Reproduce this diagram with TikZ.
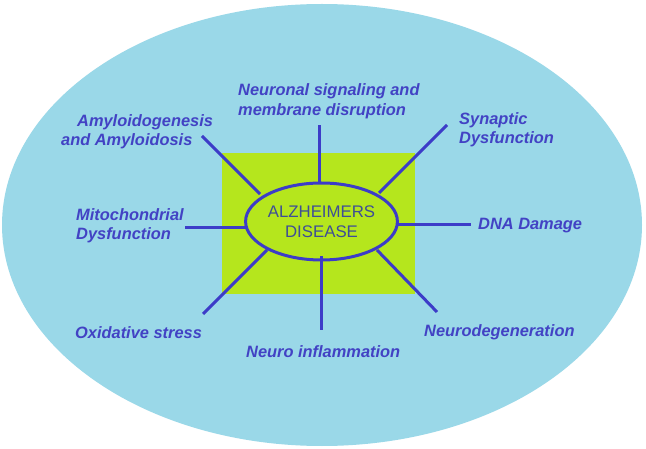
\documentclass[tikz,border=0pt]{standalone}
\usepackage{fontspec}
\setmainfont{Liberation Sans}
\usetikzlibrary{shapes.geometric}
\definecolor{bgblue}{RGB}{154,216,232}
\definecolor{limefill}{RGB}{181,230,29}
\definecolor{linkblue}{RGB}{60,60,200}
\definecolor{txtblue}{RGB}{66,66,196}
\definecolor{ctrtxt}{RGB}{62,78,150}
\begin{document}
\begin{tikzpicture}[x=1pt,y=-1pt,
  lbl/.style={font=\fontsize{16.4}{19.5}\selectfont\bfseries\itshape, text=txtblue, inner sep=0pt, anchor=west, align=left},
  spoke/.style={draw=linkblue, line width=3pt},
  hub/.style={ellipse, draw=linkblue, line width=3pt, fill=limefill, minimum width=151pt, minimum height=77pt, inner sep=0pt, text=ctrtxt, align=center, font=\fontsize{16.8}{19.5}\selectfont}]
\fill[white] (0,0) rectangle (646,449);
\useasboundingbox (0,0) rectangle (646,449);
\fill[bgblue] (322,225) ellipse [x radius=320, y radius=221];
\fill[limefill] (222,153) rectangle (415,294);
\node[hub] (ad) at (321.5,221.5) {ALZHEIMERS\\DISEASE};
% spoke end points
\coordinate (t0) at (319,183);   \coordinate (t1) at (319,125);
\coordinate (ul0) at (260,194);  \coordinate (ul1) at (202,136);
\coordinate (ur0) at (379,193);  \coordinate (ur1) at (447,125);
\coordinate (l0) at (246,228);   \coordinate (l1) at (185,228);
\coordinate (r0) at (398,225);   \coordinate (r1) at (471,225);
\coordinate (ll0) at (267,250);  \coordinate (ll1) at (203,314);
\coordinate (b0) at (321,256);   \coordinate (b1) at (321,330);
\coordinate (lr0) at (377,250);  \coordinate (lr1) at (437,312);
\draw[spoke] (t0) -- (t1);
\draw[spoke] (ul0) -- (ul1);
\draw[spoke] (ur0) -- (ur1);
\draw[spoke] (l0) -- (l1);
\draw[spoke] (r0) -- (r1);
\draw[spoke] (ll0) -- (ll1);
\draw[spoke] (b0) -- (b1);
\draw[spoke] (lr0) -- (lr1);
% labels
\node[lbl] (neur) at (238,101.5) {Neuronal signaling and\\membrane disruption};
\node[lbl] (amy) at (61,132) {\hspace*{16pt}Amyloidogenesis\\and Amyloidosis};
\node[lbl] (syn) at (459,130) {Synaptic\\Dysfunction};
\node[lbl] (mito) at (76,226) {Mitochondrial\\Dysfunction};
\node[lbl] (dna) at (478,226) {DNA Damage};
\node[lbl] (oxi) at (75,333) {Oxidative stress};
\node[lbl] (infl) at (246,352) {Neuro inflammation};
\node[lbl] (deg) at (424,332) {Neurodegeneration};
\end{tikzpicture}
\end{document}
